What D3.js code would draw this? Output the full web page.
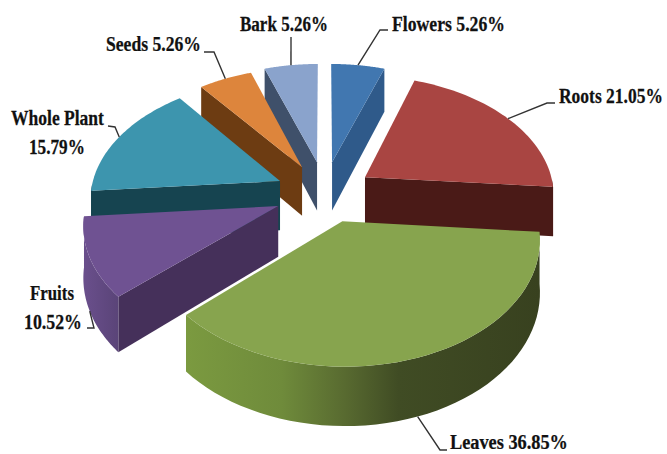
<!DOCTYPE html>
<html>
<head>
<meta charset="utf-8">
<script src="https://cdn.jsdelivr.net/npm/d3@7"></script>
<style>
html,body{margin:0;padding:0;background:#fff;overflow:hidden}
svg{display:block}
text{font-family:"Liberation Serif",serif;font-weight:bold;fill:#111;stroke:#111;stroke-width:.25px}
</style>
</head>
<body>
<svg id="chart" width="667" height="454"></svg>
<script>
// Plant parts used, as percentages of the total
const categories = ["Flowers","Roots","Leaves","Fruits","Whole Plant","Seeds","Bark"];
const shares = [5.26,21.05,36.85,10.52,15.79,5.26,5.26];

// Top, radial-face and rim colours per slice
const topColors  = ["#4177b0","#a94542","#87a44e","#6f5292","#3d95ae","#dd853c","#8aa3cc"];
const faceColors = ["#2f5a8a","#4a1a17","#3a4420","#45305a","#164450","#6d3c12","#3f506a"];

// How far each slice is pulled out of the pie (x to the right, y toward the viewer)
const pull = [[.044,-.285],[.22,-.153],[.094,.215],[-.238,.092],[-.235,-.119],[-.119,-.24],[-.038,-.285]];

// Painter's order, back to front
const drawOrder = [0,6,1,5,4,3,2];

// Label layout: text lines with [x, baseline, width], and leader bends
const labelLines = [
  [["Flowers 5.26%",392,31,113]],
  [["Roots 21.05%",559,103,104]],
  [["Leaves 36.85%",450,449,118]],
  [["Fruits",30,300,44],["10.52%",24,329,58]],
  [["Whole Plant",11,125,93],["15.79%",29,154,56]],
  [["Seeds 5.26%",106,51,95]],
  [["Bark 5.26%",240,31,88]]
];
const leaderBends = [
  [[380,30],[388,30]],
  [[547,103],[555,103]],
  [[440,450],[447,450]],
  [[94,328],[87,328]],
  [[115,127],[108,126]],
  [[214,52],[204,52]],
  [[291,37]]
];
const leaderFromBase = [false,false,true,true,false,false,false];

// Ground-plane projection of the pie
const view = {cx:324, cy:195, ax:190, by:119, k:.13, h:50};
const persp = y => 1/(1 - view.k*y);
const project = (x,y,drop=0) => [
  view.cx + view.ax*x*persp(y),
  view.cy + (view.by*y + drop)*persp(y)
];

const svg = d3.select("#chart");
const defs = svg.append("defs");
const rim = d3.line();

const pie = d3.pie().sort(null).value(d=>d);
const arcs = pie(shares);

// Side shading for the rounded walls
function wallGradient(id, stops){
  const g = defs.append("linearGradient").attr("id",id).attr("x1",0).attr("x2",1).attr("y1",0).attr("y2",0);
  stops.forEach(([o,c])=>g.append("stop").attr("offset",o).attr("stop-color",c));
}
wallGradient("wall-leaves",[[0,"#7b9a40"],[.27,"#6f8b3b"],[.45,"#586a30"],[.6,"#404c24"],[1,"#38411f"]]);
wallGradient("wall-fruits",[[0,"#6a4f8c"],[1,"#5a4478"]]);
const wallFill = {2:"url(#wall-leaves)",3:"url(#wall-fruits)"};

const TAU = 2*Math.PI;
const rimAt = (i,a)=>[pull[i][0]+Math.sin(a), pull[i][1]-Math.cos(a)];

drawOrder.forEach(i=>{
  const {startAngle:a0,endAngle:a1} = arcs[i];
  const g = svg.append("g").attr("class","slice").datum(categories[i]);
  const [ox,oy] = pull[i];
  const apex = project(ox,oy), apexB = project(ox,oy,view.h);
  const steps = d3.range(0,49).map(t=>a0+(a1-a0)*t/48);
  const topRim = steps.map(a=>project(...rimAt(i,a)));

  // Radial faces that turn toward the viewer
  const face = a=>{
    const p = rimAt(i,a);
    return [apex,project(...p),project(...p,view.h),apexB];
  };
  const faces = [];
  if(a0 > Math.PI && a0 < TAU) faces.push(a0);
  if(a1 > 0 && a1 < Math.PI) faces.push(a1);
  faces.forEach(a=>g.append("path").attr("d",rim(face(a))+"Z").attr("fill",faceColors[i]));

  // Front part of the outer wall
  const front = steps.filter(a=>a>Math.PI/2 && a<1.5*Math.PI);
  if(front.length>1){
    const upper = front.map(a=>project(...rimAt(i,a)));
    const lower = front.map(a=>project(...rimAt(i,a),view.h)).reverse();
    g.append("path").attr("d",rim(upper.concat(lower))+"Z").attr("fill",wallFill[i]||faceColors[i]);
  }

  // Top surface
  g.append("path").attr("d",rim([apex,...topRim])+"Z").attr("fill",topColors[i]);
});

// Leaders and labels; each text is squeezed horizontally to its slot width
categories.forEach((name,i)=>{
  const mid = (arcs[i].startAngle+arcs[i].endAngle)/2;
  const start = project(...rimAt(i,mid),leaderFromBase[i]?view.h:0);
  svg.append("path")
    .attr("d",rim([start,...leaderBends[i]]))
    .attr("fill","none").attr("stroke","#333").attr("stroke-width",1.4);
  labelLines[i].forEach(([t,x,y,w])=>{
    const label = svg.append("text").attr("font-size",21).text(t);
    const natural = label.node().getComputedTextLength();
    label.attr("transform",`translate(${x},${y}) scale(${w/natural},1)`);
  });
});
</script>
</body>
</html>
